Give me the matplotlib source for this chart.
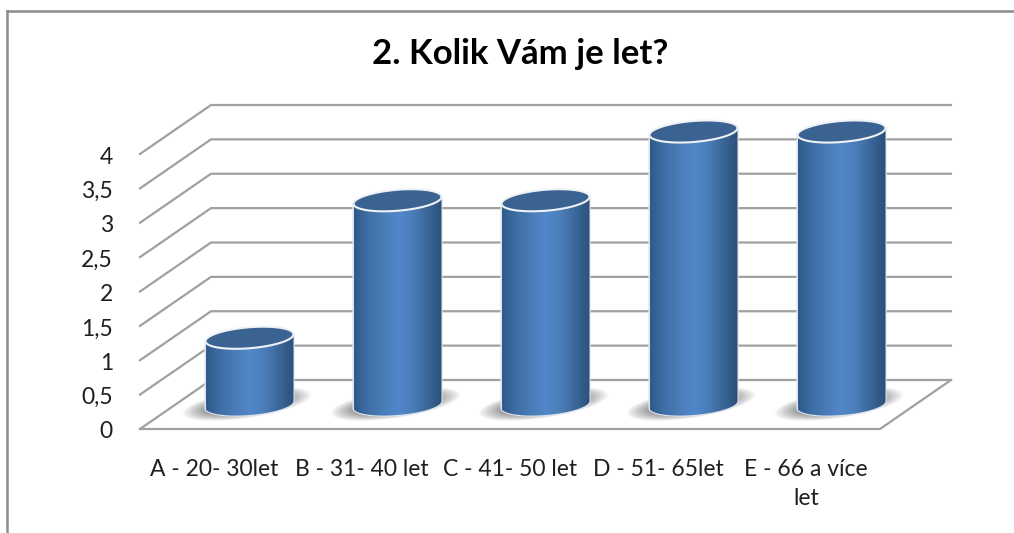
import matplotlib
matplotlib.use('Agg')
import matplotlib.pyplot as plt
import numpy as np
from matplotlib.patches import PathPatch
from matplotlib.path import Path
from matplotlib.colors import LinearSegmentedColormap

categories = ['A - 20- 30let', 'B - 31- 40 let', 'C - 41- 50 let', 'D - 51- 65let', 'E - 66 a více\nlet']
values = [1, 3, 3, 4, 4]
y_ticks = [0, 0.5, 1, 1.5, 2, 2.5, 3, 3.5, 4]
y_tick_labels = ['0', '0,5', '1', '1,5', '2', '2,5', '3', '3,5', '4']
title = '2. Kolik Vám je let?'

W, H = 1014, 533
PX_X = 148.0    # pixels per category
PX_Y = 68.75    # pixels per value unit
X0, Y0 = 140, 429   # front corner of the floor
DEPTH_X = 71 / PX_X
DEPTH_Y = 49 / PX_Y
BAR_W = 88 / PX_X
ELL_H = 21 / PX_Y
TILT = 4.5

plt.rcParams['font.family'] = ['Lato', 'DejaVu Sans']

fig = plt.figure(figsize=(W / 100, H / 100), dpi=100)
ax = fig.add_axes([0, 0, 1, 1])
ax.set_xlim(-X0 / PX_X, (W - X0) / PX_X)
ax.set_ylim(-(H - Y0) / PX_Y, Y0 / PX_Y)
ax.axis('off')

grid_c = '#a0a0a0'
text_c = '#1f1f1f'
n_cat = len(categories)

# frame around the chart
left = (7 - X0) / PX_X
frame_top = (Y0 - 11) / PX_Y
ax.plot([left, left], [-(H - Y0) / PX_Y, frame_top], color='#8c8c8c', lw=1.8)
ax.plot([left, (W - X0) / PX_X], [frame_top, frame_top], color='#8c8c8c', lw=1.8)

# back wall grid and side wall
for v in y_ticks:
    ax.plot([0, DEPTH_X, DEPTH_X + n_cat], [v, v + DEPTH_Y, v + DEPTH_Y], color=grid_c, lw=1.6, solid_joinstyle='miter')
ax.plot([0, n_cat, n_cat + DEPTH_X], [0, 0, DEPTH_Y], color=grid_c, lw=1.6)

for v, lab in zip(y_ticks, y_tick_labels):
    ax.text(-27 / PX_X, v - 3 / PX_Y, lab, ha='right', va='center', fontsize=16.5, color=text_c)

cmap = LinearSegmentedColormap.from_list('cyl', ['#2f5a8a', '#3f6fa6', '#4a7cb8', '#5288cb', '#4a7cb8', '#3a6698', '#2b4f78'])


def draw_bar(ax, i, val):
    cx = i + 0.5 + DEPTH_X / 2
    base = DEPTH_Y / 2
    top = val + base - 2 / PX_Y
    a = BAR_W / 2
    b = ELL_H / 2
    slope = np.tan(np.radians(TILT)) * PX_X / PX_Y

    # soft floor shadow
    gx = np.linspace(cx - 0.5, cx + 0.5, 200)
    gy = np.linspace(base - 0.35, base + 0.55, 160)
    xx, yy = np.meshgrid(gx, gy)
    dist = np.sqrt(((xx - cx + 0.02) / 0.44) ** 2 + ((yy - base - 0.02 - (xx - cx) * slope * 1.8) / 0.21) ** 2)
    rgba = np.zeros(xx.shape + (4,))
    rgba[..., :3] = 0.40
    rgba[..., 3] = np.clip(1.7 * (1 - dist), 0, 1) ** 0.9
    ax.imshow(rgba, extent=[gx[0], gx[-1], gy[0], gy[-1]], origin='lower', aspect='auto', zorder=2)

    # cylinder outline: lower arc of the base, up the side, back down
    t = np.linspace(np.pi, 2 * np.pi, 60)
    ex = a * np.cos(t)
    ey = b * np.sin(t) + slope * ex
    verts = list(zip(cx + ex, base + ey))
    verts += [(cx + a, top + slope * a), (cx - a, top - slope * a), (cx - a, base - slope * a)]
    body = PathPatch(Path(verts), facecolor='none', edgecolor='#dfe5ec', lw=1.6, zorder=3)
    ax.add_patch(body)
    grad = ax.imshow(np.linspace(0, 1, 256).reshape(1, -1), cmap=cmap, aspect='auto',
                     extent=[cx - a, cx + a, base - 0.5, top + 0.3], zorder=3)
    grad.set_clip_path(body)

    # top face
    t = np.linspace(0, 2 * np.pi, 100)
    ex = a * np.cos(t)
    ey = b * np.sin(t) + slope * ex
    ax.add_patch(PathPatch(Path(list(zip(cx + ex, top + ey))), facecolor='#3b6391', edgecolor='#eef2f7', lw=1.5, zorder=4))


for i, val in enumerate(values):
    draw_bar(ax, i, val)

for i, lab in enumerate(categories):
    ax.text(i + 0.5, -30 / PX_Y, lab, ha='center', va='top', fontsize=16.5, color=text_c, linespacing=1.45)

ax.text((520 - X0) / PX_X, (Y0 - 54) / PX_Y, title, ha='center', va='center', fontsize=25, fontweight='bold', color='black')

ax.set_xlim(-X0 / PX_X, (W - X0) / PX_X)
ax.set_ylim(-(H - Y0) / PX_Y, Y0 / PX_Y)

fig.savefig('out.png', dpi=100)
